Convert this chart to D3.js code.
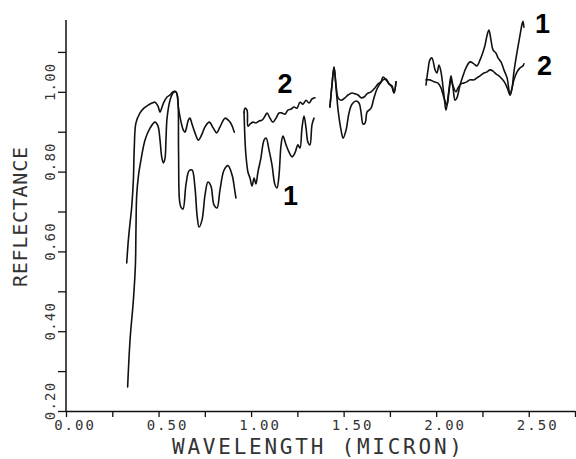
<!DOCTYPE html>
<html><head><meta charset="utf-8">
<script src="https://cdn.jsdelivr.net/npm/d3@7"></script>
<style>
html,body{margin:0;padding:0;background:#fff;}
svg{display:block;}
</style></head>
<body>
<svg id="chart" width="576" height="459"></svg>
<script>
// ---- data: [wavelength (micron), reflectance] ----
const series1A = [[0.333,0.260],[0.346,0.378],[0.364,0.478],[0.375,0.566],[0.378,0.654],[0.382,0.741],[0.392,0.792],[0.405,0.829],[0.427,0.879],[0.454,0.909],[0.481,0.924],[0.497,0.914],[0.508,0.879],[0.517,0.837],[0.526,0.822],[0.535,0.834],[0.540,0.879],[0.546,0.934],[0.562,0.979],[0.578,0.997],[0.592,1.001],[0.602,0.990],[0.608,0.854],[0.613,0.729],[0.621,0.711],[0.632,0.706],[0.648,0.767],[0.665,0.802],[0.681,0.804],[0.697,0.759],[0.708,0.691],[0.719,0.661],[0.735,0.679],[0.751,0.741],[0.767,0.774],[0.783,0.764],[0.800,0.716],[0.816,0.709],[0.832,0.754],[0.854,0.804],[0.875,0.815],[0.897,0.792],[0.913,0.749],[0.918,0.734]];
const series1B = [[0.962,0.949],[0.967,0.880],[0.972,0.842],[0.983,0.799],[0.994,0.784],[1.005,0.764],[1.016,0.784],[1.026,0.769],[1.037,0.799],[1.053,0.834],[1.070,0.879],[1.081,0.884],[1.097,0.854],[1.113,0.817],[1.129,0.767],[1.140,0.759],[1.151,0.792],[1.162,0.867],[1.172,0.889],[1.189,0.867],[1.205,0.849],[1.221,0.837],[1.237,0.847],[1.253,0.867],[1.264,0.859],[1.275,0.909],[1.286,0.939],[1.297,0.909],[1.307,0.874],[1.318,0.867],[1.329,0.917],[1.340,0.934]];
const series1C = [[1.426,0.962],[1.437,1.017],[1.448,1.062],[1.459,1.010],[1.470,0.954],[1.486,0.904],[1.497,0.884],[1.513,0.904],[1.529,0.947],[1.545,0.969],[1.567,0.977],[1.583,0.972],[1.594,0.949],[1.605,0.919],[1.616,0.922],[1.626,0.949],[1.637,0.954],[1.648,0.959],[1.664,0.985],[1.680,1.007],[1.696,1.020],[1.713,1.030],[1.729,1.032],[1.745,1.020],[1.761,1.012],[1.772,0.997],[1.783,1.025]];
const series1D = [[1.945,1.017],[1.956,1.055],[1.966,1.080],[1.977,1.085],[1.994,1.055],[2.004,1.047],[2.015,1.067],[2.026,1.050],[2.042,0.992],[2.053,0.954],[2.069,1.005],[2.080,1.040],[2.091,1.010],[2.102,0.979],[2.112,0.985],[2.129,1.017],[2.145,1.040],[2.161,1.060],[2.183,1.075],[2.204,1.070],[2.220,1.065],[2.237,1.080],[2.253,1.100],[2.264,1.117],[2.275,1.142],[2.285,1.155],[2.296,1.130],[2.307,1.105],[2.323,1.097],[2.334,1.085],[2.350,1.075],[2.366,1.055],[2.383,1.035],[2.399,0.992],[2.410,1.010],[2.420,1.050],[2.437,1.100],[2.453,1.142],[2.464,1.170],[2.469,1.177],[2.474,1.162]];

const series2A = [[0.328,0.571],[0.337,0.629],[0.346,0.671],[0.355,0.711],[0.364,0.779],[0.369,0.862],[0.378,0.922],[0.400,0.947],[0.421,0.959],[0.445,0.967],[0.465,0.972],[0.481,0.974],[0.497,0.964],[0.508,0.949],[0.519,0.962],[0.529,0.974],[0.546,0.987],[0.562,0.992],[0.578,1.000],[0.589,1.001],[0.598,0.997],[0.607,0.962],[0.616,0.937],[0.634,0.904],[0.643,0.899],[0.652,0.912],[0.661,0.929],[0.670,0.934],[0.679,0.922],[0.697,0.897],[0.715,0.879],[0.733,0.892],[0.751,0.912],[0.774,0.924],[0.796,0.909],[0.814,0.897],[0.832,0.912],[0.859,0.934],[0.877,0.929],[0.895,0.917],[0.909,0.899]];
const series2B = [[0.962,0.949],[0.967,0.959],[0.978,0.954],[0.983,0.914],[0.994,0.919],[1.010,0.924],[1.026,0.922],[1.043,0.927],[1.059,0.929],[1.075,0.939],[1.086,0.947],[1.102,0.934],[1.118,0.924],[1.135,0.934],[1.151,0.947],[1.167,0.947],[1.183,0.944],[1.199,0.954],[1.216,0.957],[1.232,0.962],[1.248,0.959],[1.264,0.974],[1.280,0.969],[1.297,0.979],[1.313,0.972],[1.329,0.982],[1.345,0.985]];
const series2C = [[1.426,0.962],[1.437,1.017],[1.448,1.062],[1.459,1.017],[1.470,0.985],[1.486,0.979],[1.507,0.985],[1.524,0.992],[1.545,0.997],[1.561,0.995],[1.578,0.992],[1.594,0.985],[1.610,0.987],[1.626,0.995],[1.648,1.000],[1.670,1.010],[1.686,1.020],[1.702,1.025],[1.713,1.037],[1.729,1.030],[1.745,1.020],[1.761,1.015],[1.772,0.997],[1.783,1.025]];
const series2D = [[1.945,1.030],[1.966,1.030],[1.988,1.025],[2.010,1.022],[2.026,1.010],[2.042,0.985],[2.058,0.967],[2.069,1.000],[2.080,1.030],[2.091,1.015],[2.107,1.000],[2.118,1.010],[2.134,1.020],[2.150,1.022],[2.166,1.025],[2.183,1.030],[2.204,1.030],[2.220,1.035],[2.237,1.040],[2.258,1.047],[2.275,1.050],[2.291,1.055],[2.307,1.052],[2.323,1.045],[2.339,1.040],[2.356,1.032],[2.372,1.022],[2.388,1.005],[2.399,0.992],[2.410,1.010],[2.420,1.030],[2.437,1.050],[2.453,1.060],[2.469,1.065],[2.474,1.070]];

const xTickValues = [0,0.25,0.5,0.75,1,1.25,1.5,1.75,2,2.25,2.5,2.75];
const xTickLabels = ["0.00","0.50","1.00","1.50","2.00","2.50"];
const yTickValues = [0.2,0.3,0.4,0.5,0.6,0.7,0.8,0.9,1.0,1.1];
const yTickLabels = ["0.20","0.40","0.60","0.80","1.00"];
const curveLabels = [
  {text:"2", w:1.183, r:0.997},
  {text:"1", w:1.213, r:0.716},
  {text:"1", w:2.575, r:1.147},
  {text:"2", w:2.585, r:1.042}
];
const xTitle = "WAVELENGTH (MICRON)";
const yTitle = "REFLECTANCE";

// ---- drawing ----
const svg = d3.select("#chart");
const x = d3.scaleLinear().domain([0, 2.75]).range([66, 575]);
const y = d3.scaleLinear().domain([0.2, 1.18]).range([411, 20]);
const ink = "#111";
const textInk = "#333";
const mono = "'DejaVu Sans Mono', monospace";

// curves
const line = d3.line().x(d => x(d[0])).y(d => y(d[1])).curve(d3.curveCatmullRom.alpha(0.5));
const segments = [series1A, series1B, series1C, series1D, series2A, series2B, series2C, series2D];
svg.append("g").selectAll("path").data(segments).join("path")
  .attr("d", line).attr("fill", "none").attr("stroke", ink)
  .attr("stroke-width", 1.6).attr("stroke-linejoin", "round").attr("stroke-linecap", "round");

// y axis
const yAxis = svg.append("g").attr("transform", `translate(${x(0)},0)`)
  .call(d3.axisLeft(y).tickValues(yTickValues).tickSize(8).tickSizeOuter(0).tickFormat(""));
yAxis.select(".domain").attr("d", `M0,${y(0.2)}V${y(1.18)}`);
// x axis
const xAxis = svg.append("g").attr("transform", `translate(0,${y(0.2)})`)
  .call(d3.axisBottom(x).tickValues(xTickValues).tickSize(6).tickSizeOuter(0).tickFormat(""));
svg.selectAll(".domain").attr("stroke", ink).attr("stroke-width", 1.5);
svg.selectAll(".tick line").attr("stroke", ink).attr("stroke-width", 1.3);

// x tick labels
svg.append("g").selectAll("text").data(xTickLabels).join("text")
  .attr("x", d => x(+d) + 9).attr("y", 430)
  .attr("text-anchor", "middle").attr("font-family", mono).attr("font-size", 14)
  .attr("letter-spacing", 2).attr("fill", textInk).text(d => d);

// y tick labels (rotated)
svg.append("g").selectAll("text").data(yTickLabels).join("text")
  .attr("transform", d => `translate(55,${y(+d) - 10}) rotate(-90)`)
  .attr("text-anchor", "middle").attr("font-family", mono).attr("font-size", 14)
  .attr("letter-spacing", 1.2).attr("fill", textInk).text(d => d);

// titles
svg.append("text").attr("x", 172).attr("y", 454)
  .attr("font-family", mono).attr("font-size", 21).attr("fill", textInk)
  .attr("textLength", 290).attr("lengthAdjust", "spacing").text(xTitle);
svg.append("text").attr("transform", "translate(27,217) rotate(-90)")
  .attr("text-anchor", "middle").attr("font-family", mono).attr("font-size", 20)
  .attr("fill", textInk).attr("textLength", 140).attr("lengthAdjust", "spacing").text(yTitle);

// curve labels
svg.append("g").selectAll("text").data(curveLabels).join("text")
  .attr("x", d => x(d.w)).attr("y", d => y(d.r))
  .attr("text-anchor", "middle").attr("font-family", "'Liberation Sans', Arial, sans-serif")
  .attr("font-weight", "bold").attr("font-size", 27).attr("fill", "#000").text(d => d.text);
</script>
</body></html>
